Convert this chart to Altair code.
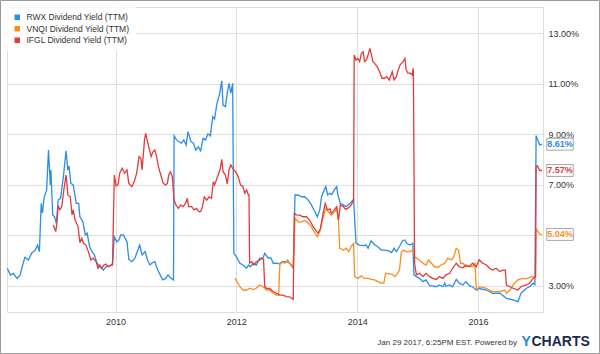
import altair as alt
import pandas as pd

# ---- data (decimal years, dividend yield in %) ----
series_names = ["RWX Dividend Yield (TTM)", "VNQI Dividend Yield (TTM)", "IFGL Dividend Yield (TTM)"]
series_colors = ["#2a8de8", "#f98e1d", "#e33b3b"]

rwx_t = [2008.21, 2008.26, 2008.31, 2008.37, 2008.42, 2008.45, 2008.50, 2008.56, 2008.61, 2008.67,
         2008.71, 2008.74, 2008.77, 2008.79, 2008.82, 2008.86, 2008.89, 2008.92, 2008.93, 2008.96,
         2008.99, 2009.02, 2009.05, 2009.09, 2009.14, 2009.18, 2009.21, 2009.23, 2009.26, 2009.30,
         2009.35, 2009.39, 2009.41, 2009.46, 2009.50, 2009.53, 2009.57, 2009.61, 2009.65, 2009.69,
         2009.74, 2009.80, 2009.84, 2009.90, 2009.95, 2009.98, 2010.02, 2010.05, 2010.09, 2010.13,
         2010.19, 2010.22, 2010.27, 2010.32, 2010.37, 2010.40, 2010.44, 2010.49, 2010.53, 2010.57,
         2010.61, 2010.65, 2010.70, 2010.74, 2010.78, 2010.83, 2010.87, 2010.90, 2010.96, 2010.97,
         2011.01, 2011.05, 2011.09, 2011.13, 2011.17, 2011.20, 2011.25, 2011.29, 2011.33, 2011.37,
         2011.41, 2011.45, 2011.49, 2011.53, 2011.57, 2011.61, 2011.64, 2011.68, 2011.72, 2011.76,
         2011.78, 2011.82, 2011.85, 2011.88, 2011.91, 2011.94, 2011.96, 2012.00, 2012.06, 2012.11,
         2012.17, 2012.20, 2012.23, 2012.28, 2012.33, 2012.39, 2012.44, 2012.47, 2012.53, 2012.57,
         2012.61, 2012.66, 2012.72, 2012.77, 2012.83, 2012.88, 2012.94, 2012.97, 2013.02, 2013.08,
         2013.13, 2013.19, 2013.24, 2013.30, 2013.34, 2013.38, 2013.41, 2013.43, 2013.48, 2013.51,
         2013.55, 2013.58, 2013.62, 2013.66, 2013.68, 2013.72, 2013.77, 2013.82, 2013.88, 2013.93,
         2013.94, 2013.98, 2014.04, 2014.10, 2014.15, 2014.18, 2014.23, 2014.29, 2014.34, 2014.40,
         2014.45, 2014.51, 2014.57, 2014.61, 2014.65, 2014.70, 2014.75, 2014.79, 2014.82, 2014.87,
         2014.92, 2014.94, 2014.98, 2015.03, 2015.09, 2015.14, 2015.20, 2015.25, 2015.31, 2015.36,
         2015.42, 2015.45, 2015.47, 2015.53, 2015.58, 2015.64, 2015.69, 2015.75, 2015.80, 2015.86,
         2015.91, 2015.97, 2016.02, 2016.14, 2016.24, 2016.36, 2016.47, 2016.58, 2016.66, 2016.71,
         2016.80, 2016.85, 2016.91, 2016.94, 2016.96, 2017.02, 2017.06]
rwx_v = [3.70, 3.43, 3.50, 3.30, 3.43, 3.71, 4.13, 4.03, 4.29, 4.42,
         4.62, 4.36, 6.27, 5.88, 6.53, 6.80, 8.38, 7.00, 7.59, 5.81,
         5.74, 5.48, 6.40, 6.47, 7.39, 8.35, 7.59, 7.75, 7.06, 7.00,
         6.27, 6.27, 5.74, 5.54, 5.02, 5.09, 4.56, 4.36, 4.23, 3.92,
         3.76, 3.63, 3.76, 3.79, 3.87, 4.95, 4.75, 4.80, 5.02, 5.02,
         4.75, 4.05, 3.96, 4.09, 4.42, 4.62, 4.23, 4.36, 4.03, 3.83,
         3.92, 3.96, 3.63, 3.44, 3.24, 3.30, 3.44, 3.34, 3.24, 8.94,
         8.78, 8.71, 8.65, 8.78, 8.58, 9.11, 8.71, 8.65, 8.38, 8.51,
         8.35, 8.84, 8.78, 9.02, 8.94, 9.70, 9.60, 10.23, 10.56, 11.12,
         10.16, 10.10, 10.63, 11.02, 10.63, 11.02, 4.29, 4.16, 3.90, 3.83,
         3.70, 3.83, 3.76, 3.90, 3.83, 4.10, 4.10, 4.29, 4.10, 4.12,
         3.90, 3.90, 3.87, 3.96, 3.96, 3.90, 3.70, 6.60, 6.60, 6.53,
         6.53, 6.40, 6.21, 5.94, 5.74, 6.01, 6.53, 6.67, 6.93, 6.60,
         6.67, 6.62, 6.80, 6.93, 6.60, 6.27, 6.21, 6.14, 6.27, 6.40,
         6.43, 4.69, 4.62, 4.60, 4.62, 4.49, 4.79, 4.62, 4.55, 4.42,
         4.42, 4.40, 4.32, 4.49, 4.36, 4.56, 4.79, 4.82, 4.69, 4.62,
         4.69, 3.44, 3.37, 3.30, 3.17, 3.24, 3.00, 3.00, 2.97, 3.04,
         2.97, 3.11, 2.98, 3.04, 2.97, 3.26, 3.11, 3.04, 3.17, 3.00,
         2.97, 2.84, 2.90, 2.84, 2.71, 2.72, 2.51, 2.45, 2.38, 2.71,
         2.91, 2.97, 3.11, 3.05, 8.95, 8.58, 8.61]

vnqi_t = [2011.98, 2012.01, 2012.06, 2012.11, 2012.17, 2012.22, 2012.28, 2012.33, 2012.39, 2012.44,
          2012.50, 2012.55, 2012.61, 2012.66, 2012.70, 2012.72, 2012.75, 2012.80, 2012.85, 2012.88,
          2012.94, 2012.97, 2013.02, 2013.08, 2013.13, 2013.19, 2013.24, 2013.30, 2013.34, 2013.38,
          2013.43, 2013.48, 2013.52, 2013.57, 2013.63, 2013.66, 2013.69, 2013.71, 2013.77, 2013.82,
          2013.86, 2013.90, 2013.94, 2013.96, 2014.01, 2014.07, 2014.12, 2014.18, 2014.23, 2014.29,
          2014.34, 2014.40, 2014.44, 2014.47, 2014.53, 2014.58, 2014.62, 2014.66, 2014.70, 2014.73,
          2014.77, 2014.81, 2014.87, 2014.92, 2014.95, 2014.98, 2015.03, 2015.09, 2015.14, 2015.18,
          2015.23, 2015.28, 2015.34, 2015.39, 2015.45, 2015.50, 2015.56, 2015.60, 2015.64, 2015.68,
          2015.71, 2015.75, 2015.80, 2015.86, 2015.91, 2015.95, 2015.97, 2015.99, 2016.02, 2016.14,
          2016.24, 2016.36, 2016.44, 2016.47, 2016.53, 2016.58, 2016.66, 2016.74, 2016.80, 2016.85,
          2016.91, 2016.95, 2016.96, 2017.02, 2017.06]
vnqi_v = [3.30, 3.17, 2.97, 2.84, 2.84, 2.91, 2.86, 2.91, 3.04, 2.98,
          2.84, 2.84, 2.71, 2.64, 2.64, 3.90, 3.96, 3.90, 4.03, 3.90,
          3.76, 5.68, 5.54, 5.54, 5.60, 5.48, 5.35, 5.09, 4.95, 5.15,
          5.68, 6.07, 5.94, 5.81, 5.94, 6.07, 5.54, 4.49, 4.42, 4.49,
          4.36, 4.56, 4.69, 3.37, 3.30, 3.40, 3.30, 3.30, 3.26, 3.24,
          3.17, 3.11, 3.11, 3.50, 3.48, 3.46, 3.37, 3.47, 3.63, 4.32,
          4.42, 4.36, 4.36, 4.42, 4.16, 4.10, 4.03, 3.90, 3.83, 4.03,
          3.90, 3.76, 3.74, 3.83, 3.90, 4.10, 4.03, 4.16, 4.49, 4.42,
          3.90, 3.90, 3.76, 3.79, 3.76, 3.90, 2.97, 2.84, 2.97, 2.91,
          2.78, 2.78, 2.84, 2.71, 2.84, 3.04, 3.24, 3.30, 3.28, 3.34,
          3.37, 3.35, 5.26, 5.05, 5.04]

ifgl_t = [2008.97, 2009.01, 2009.03, 2009.05, 2009.08, 2009.11, 2009.14, 2009.18, 2009.19, 2009.21,
          2009.25, 2009.28, 2009.30, 2009.33, 2009.38, 2009.41, 2009.44, 2009.47, 2009.51, 2009.55,
          2009.59, 2009.63, 2009.68, 2009.71, 2009.74, 2009.77, 2009.81, 2009.84, 2009.88, 2009.93,
          2009.95, 2009.98, 2010.01, 2010.04, 2010.07, 2010.11, 2010.15, 2010.19, 2010.22, 2010.27,
          2010.31, 2010.35, 2010.39, 2010.42, 2010.44, 2010.48, 2010.50, 2010.53, 2010.55, 2010.59,
          2010.62, 2010.65, 2010.68, 2010.71, 2010.75, 2010.79, 2010.83, 2010.86, 2010.88, 2010.91,
          2010.94, 2010.97, 2011.00, 2011.04, 2011.08, 2011.12, 2011.16, 2011.19, 2011.21, 2011.26,
          2011.30, 2011.34, 2011.38, 2011.41, 2011.44, 2011.47, 2011.51, 2011.55, 2011.59, 2011.62,
          2011.64, 2011.67, 2011.70, 2011.73, 2011.76, 2011.78, 2011.82, 2011.85, 2011.88, 2011.91,
          2011.94, 2011.96, 2011.99, 2012.03, 2012.07, 2012.11, 2012.14, 2012.17, 2012.20, 2012.21,
          2012.22, 2012.25, 2012.29, 2012.33, 2012.39, 2012.43, 2012.45, 2012.47, 2012.50, 2012.55,
          2012.61, 2012.66, 2012.72, 2012.77, 2012.83, 2012.88, 2012.94, 2012.96, 2012.99, 2013.05,
          2013.10, 2013.16, 2013.21, 2013.27, 2013.33, 2013.35, 2013.39, 2013.43, 2013.47, 2013.51,
          2013.55, 2013.57, 2013.62, 2013.66, 2013.69, 2013.72, 2013.77, 2013.81, 2013.86, 2013.90,
          2013.94, 2013.95, 2013.98, 2014.01, 2014.04, 2014.07, 2014.10, 2014.12, 2014.15, 2014.18,
          2014.21, 2014.23, 2014.26, 2014.29, 2014.33, 2014.37, 2014.41, 2014.45, 2014.49, 2014.53,
          2014.55, 2014.58, 2014.61, 2014.65, 2014.67, 2014.71, 2014.76, 2014.79, 2014.81, 2014.84,
          2014.88, 2014.91, 2014.93, 2014.95, 2014.98, 2015.03, 2015.09, 2015.14, 2015.20, 2015.25,
          2015.31, 2015.36, 2015.42, 2015.47, 2015.53, 2015.58, 2015.64, 2015.69, 2015.75, 2015.80,
          2015.86, 2015.91, 2015.97, 2016.02, 2016.08, 2016.14, 2016.19, 2016.24, 2016.30, 2016.36,
          2016.41, 2016.45, 2016.47, 2016.53, 2016.58, 2016.66, 2016.71, 2016.80, 2016.85, 2016.91,
          2016.95, 2016.96, 2016.98, 2017.02, 2017.06]
ifgl_v = [5.41, 5.15, 5.48, 6.17, 6.01, 6.14, 6.73, 7.39, 7.20, 6.60,
          6.53, 5.81, 6.01, 5.61, 5.35, 4.71, 4.89, 4.69, 4.62, 4.36,
          4.03, 4.10, 3.96, 3.70, 3.83, 3.70, 3.83, 3.87, 3.76, 3.83,
          3.83, 7.39, 6.96, 7.00, 7.46, 7.66, 7.46, 7.59, 7.06, 6.93,
          7.13, 7.46, 8.12, 8.05, 7.59, 8.78, 9.04, 8.71, 8.51, 8.12,
          8.31, 8.38, 8.12, 7.72, 7.39, 7.06, 7.00, 7.06, 7.39, 7.52,
          7.33, 6.40, 6.21, 6.07, 6.21, 6.14, 6.27, 6.47, 6.14, 6.14,
          6.01, 6.07, 5.94, 5.94, 6.14, 6.53, 6.40, 6.53, 6.47, 7.13,
          7.00, 7.19, 7.39, 7.59, 8.01, 7.52, 7.39, 7.04, 7.59, 7.79,
          7.65, 7.59, 7.52, 7.33, 7.00, 6.93, 6.67, 6.80, 6.60, 6.60,
          3.90, 3.96, 3.83, 3.96, 4.03, 4.10, 4.05, 2.97, 2.91, 2.90,
          2.78, 2.71, 2.64, 2.64, 2.58, 2.57, 2.47, 5.88, 5.81, 5.80,
          5.74, 5.74, 5.61, 5.35, 5.15, 5.09, 5.25, 5.81, 6.27, 6.01,
          6.05, 5.88, 6.01, 6.14, 5.61, 6.21, 6.14, 6.03, 6.10, 6.21,
          6.40, 12.14, 11.94, 12.00, 11.88, 12.21, 12.27, 11.88, 11.94, 12.14,
          12.40, 12.20, 11.88, 11.81, 11.68, 11.48, 11.22, 11.22, 11.28, 11.15,
          11.28, 11.48, 11.15, 11.28, 11.48, 11.75, 11.88, 12.01, 11.55, 11.42,
          11.42, 11.35, 11.62, 3.90, 3.44, 3.50, 3.37, 3.50, 3.37, 3.30,
          3.26, 3.37, 3.30, 3.44, 3.50, 3.70, 3.90, 3.76, 3.72, 3.83,
          3.76, 3.90, 3.76, 4.03, 3.90, 3.83, 3.70, 3.63, 3.70, 3.57,
          3.63, 3.63, 3.04, 2.97, 2.91, 2.84, 2.97, 3.04, 3.11, 3.30,
          3.35, 7.72, 7.76, 7.57, 7.57]

last_labels = ["8.61%", "7.57%", "5.04%"]
last_values = [8.61, 7.57, 5.04]
y_ticks = [3, 5, 7, 9, 11, 13]
x_tick_years = [2010, 2012, 2014, 2016]
footer_text = "Jan 29 2017, 6:25PM EST.  Powered by"


def to_date(y):
    yr = int(y)
    start = pd.Timestamp(yr, 1, 1)
    end = pd.Timestamp(yr + 1, 1, 1)
    return (start + (end - start) * (y - yr)).strftime("%Y-%m-%dT%H:%M:%S")


rows = []
for name, ts, vs in [(series_names[0], rwx_t, rwx_v),
                     (series_names[1], vnqi_t, vnqi_v),
                     (series_names[2], ifgl_t, ifgl_v)]:
    for i, (t, v) in enumerate(zip(ts, vs)):
        rows.append({"series": name, "date": to_date(t), "value": v, "i": i})
df = pd.DataFrame(rows)

x_domain = [alt.DateTime(year=2008, month=3, date=16, utc=True),
            alt.DateTime(year=2017, month=1, date=28, utc=True)]
x_scale = alt.Scale(domain=x_domain, type="utc")
y_scale = alt.Scale(domain=[1.97, 14.04], nice=False, zero=False)

lines = alt.Chart(df).mark_line(strokeWidth=1.3, clip=True).encode(
    x=alt.X("date:T", scale=x_scale,
            axis=alt.Axis(title=None, values=[alt.DateTime(year=y, month=1, date=1, utc=True) for y in x_tick_years],
                          format="%Y", formatType="utc", ticks=False, domain=False, labelPadding=5,
                          gridColor="#dedede", labelFontSize=9, labelColor="#333")),
    y=alt.Y("value:Q", scale=y_scale,
            axis=alt.Axis(title=None, orient="right", values=y_ticks, ticks=False, domain=False,
                          labelExpr="format(datum.value, '.2f') + '%'", labelPadding=5,
                          gridColor="#dedede", labelFontSize=9, labelColor="#333")),
    color=alt.Color("series:N", scale=alt.Scale(domain=series_names, range=series_colors),
                    legend=alt.Legend(title=None, orient="top-left", offset=0, symbolType="square",
                                      symbolSize=30, symbolStrokeWidth=0, labelFontSize=8.5,
                                      labelColor="#333", padding=6, rowPadding=2.5, labelOffset=5,
                                      fillColor="rgba(255,255,255,0.8)")),
    detail="series:N",
    order="i:Q",
)

lab_df = pd.DataFrame({"label": last_labels, "value": last_values, "series": series_names[:1] + [series_names[2], series_names[1]]})
boxes = alt.Chart(lab_df).mark_point(shape="M-1,-0.45H1V0.45H-1Z", filled=True, fill="white",
                                     stroke="#a8a8a8", strokeWidth=1, size=700, opacity=1).encode(
    x=alt.value(553), y=alt.Y("value:Q", scale=y_scale))
box_text = alt.Chart(lab_df).mark_text(fontSize=9, fontWeight="bold", align="center", baseline="middle").encode(
    x=alt.value(553), y=alt.Y("value:Q", scale=y_scale), text="label:N",
    color=alt.Color("series:N", scale=alt.Scale(domain=series_names, range=series_colors), legend=None))

one = pd.DataFrame({"t": [footer_text], "y": ["Y"], "c": ["CHARTS"]})
footer = alt.Chart(one).mark_text(fontSize=8, align="right", baseline="middle", color="#333").encode(
    x=alt.value(510), y=alt.value(336), text="t:N")
logo_y = alt.Chart(one).mark_text(fontSize=14, fontWeight="bold", align="left", baseline="middle",
                                  color="#1b8be6").encode(x=alt.value(514.5), y=alt.value(335), text="y:N")
logo_c = alt.Chart(one).mark_text(fontSize=14, fontWeight="bold", align="left", baseline="middle",
                                  color="#1c2b4c").encode(x=alt.value(524.5), y=alt.value(335), text="c:N")
outer = alt.Chart(one).mark_rect(fill=None, stroke="#9a9a9a", strokeWidth=1).encode(
    x=alt.value(-6.5), x2=alt.value(592.5), y=alt.value(-6.5), y2=alt.value(346.5))

chart = alt.layer(lines, boxes, box_text, footer, logo_y, logo_c, outer).resolve_scale(color="shared").properties(
    width=536, height=305,
    padding={"left": 7, "top": 7, "right": 57, "bottom": 42},
    autosize=alt.AutoSizeParams(type="none"),
    background="white",
).configure_view(fill="#f8f8f8", stroke="#b0b0b0", strokeWidth=1).configure(
    font="Liberation Sans"
)

chart.save("out.html", embed_options={"renderer": "svg", "actions": False})
